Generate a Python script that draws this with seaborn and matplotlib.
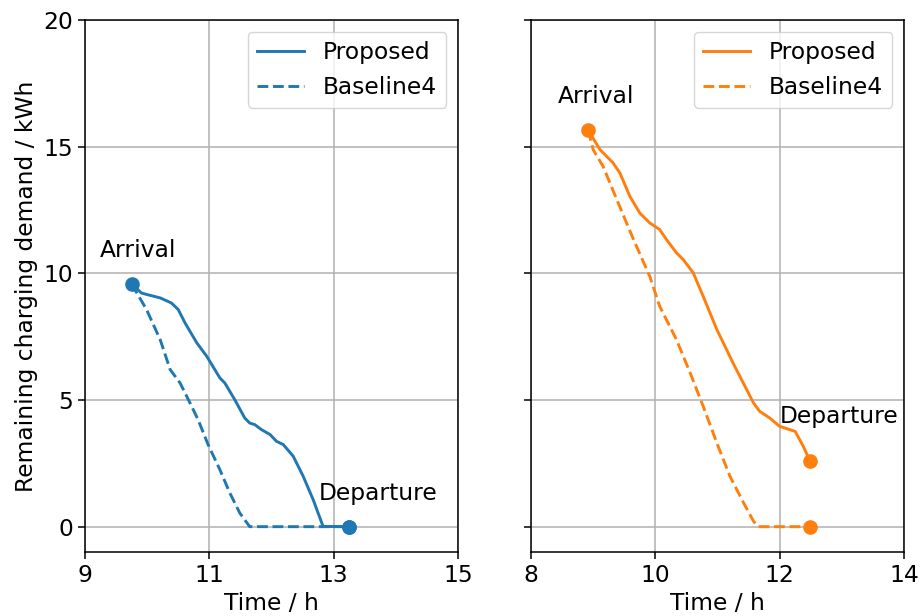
import numpy as np
import pandas as pd
import matplotlib
matplotlib.use("Agg")
import matplotlib.pyplot as plt
import seaborn as sns

# EV 1 (left panel)
ev1_prop_t = [9.75, 9.91, 10.21, 10.39, 10.50, 10.61, 10.80, 10.96, 11.17, 11.25, 11.41,
              11.57, 11.65, 11.73, 11.84, 11.98, 12.08, 12.19, 12.35, 12.51, 12.67, 12.83, 13.24]
ev1_prop_e = [9.58, 9.22, 9.03, 8.83, 8.57, 8.04, 7.25, 6.72, 5.87, 5.67, 5.01,
              4.29, 4.09, 4.03, 3.83, 3.63, 3.37, 3.24, 2.78, 1.99, 1.07, 0.01, 0.0]
ev1_base_t = [9.75, 9.99, 10.21, 10.37, 10.53, 10.69, 10.82, 10.98, 11.17, 11.33, 11.49, 11.65, 13.24]
ev1_base_e = [9.58, 8.57, 7.38, 6.20, 5.67, 4.88, 4.22, 3.24, 2.25, 1.33, 0.54, 0.0, 0.0]

# EV 2 (right panel)
ev2_prop_t = [8.92, 9.11, 9.32, 9.43, 9.59, 9.75, 9.91, 10.07, 10.18, 10.34, 10.45, 10.61,
              10.77, 10.99, 11.25, 11.58, 11.68, 11.84, 12.00, 12.25, 12.38, 12.49]
ev2_prop_e = [15.65, 14.88, 14.36, 13.96, 13.04, 12.38, 11.99, 11.73, 11.33, 10.81, 10.54, 10.02,
              9.09, 7.78, 6.46, 4.88, 4.55, 4.29, 3.96, 3.76, 3.17, 2.58]
ev2_base_t = [8.92, 9.00, 9.16, 9.38, 9.65, 9.91, 10.07, 10.34, 10.56, 10.77, 10.99,
              11.20, 11.42, 11.58, 11.66, 12.49]
ev2_base_e = [15.65, 14.88, 14.22, 12.91, 11.33, 9.88, 8.70, 7.38, 6.07, 4.75, 3.30,
              1.99, 0.94, 0.21, 0.0, 0.0]

panels = [
    dict(prop=(ev1_prop_t, ev1_prop_e), base=(ev1_base_t, ev1_base_e), color="#1f77b4",
         xlim=(9, 15), xticks=[9, 11, 13, 15],
         arr_txt=(9.85, 10.9), dep_txt=(13.71, 1.30)),
    dict(prop=(ev2_prop_t, ev2_prop_e), base=(ev2_base_t, ev2_base_e), color="#ff7f0e",
         xlim=(8, 14), xticks=[8, 10, 12, 14],
         arr_txt=(9.05, 16.98), dep_txt=(12.95, 4.34)),
]

plt.rcParams["font.family"] = ["DejaVu Sans"]
plt.rcParams["font.size"] = 16.8

fig, axes = plt.subplots(1, 2, figsize=(9.21, 6.16), dpi=100, sharey=True)
fig.subplots_adjust(left=0.0923, right=0.9815, top=0.9675, bottom=0.1039, wspace=0.196)

for ax, p in zip(axes, panels):
    c = p["color"]
    df_p = pd.DataFrame({"t": p["prop"][0], "e": p["prop"][1]})
    df_b = pd.DataFrame({"t": p["base"][0], "e": p["base"][1]})
    sns.lineplot(data=df_p, x="t", y="e", ax=ax, color=c, lw=2.1, label="Proposed", sort=False)
    sns.lineplot(data=df_b, x="t", y="e", ax=ax, color=c, lw=2.1, ls="--", label="Baseline4", sort=False)
    # arrival / departure markers
    ax.plot(p["prop"][0][0], p["prop"][1][0], "o", color=c, ms=9.5)
    ax.plot(p["prop"][0][-1], p["prop"][1][-1], "o", color=c, ms=9.5)
    ax.plot(p["base"][0][-1], p["base"][1][-1], "o", color=c, ms=9.5)
    ax.text(*p["arr_txt"], "Arrival", ha="center", va="center")
    ax.text(*p["dep_txt"], "Departure", ha="center", va="center")

    ax.set_xlim(*p["xlim"])
    ax.set_xticks(p["xticks"])
    ax.set_ylim(-1, 20)
    ax.set_yticks([0, 5, 10, 15, 20])
    ax.grid(True, color="#b0b0b0", lw=1.1)
    ax.set_axisbelow(True)
    ax.set_xlabel("Time / h")
    ax.set_ylabel("")
    ax.tick_params(length=5, width=1.1)
    for s in ax.spines.values():
        s.set_linewidth(1.1)
    ax.legend(loc="upper right", fontsize=16.8, handlelength=2.0)

axes[0].set_ylabel("Remaining charging demand / kWh")

fig.savefig("out.png", dpi=100)
